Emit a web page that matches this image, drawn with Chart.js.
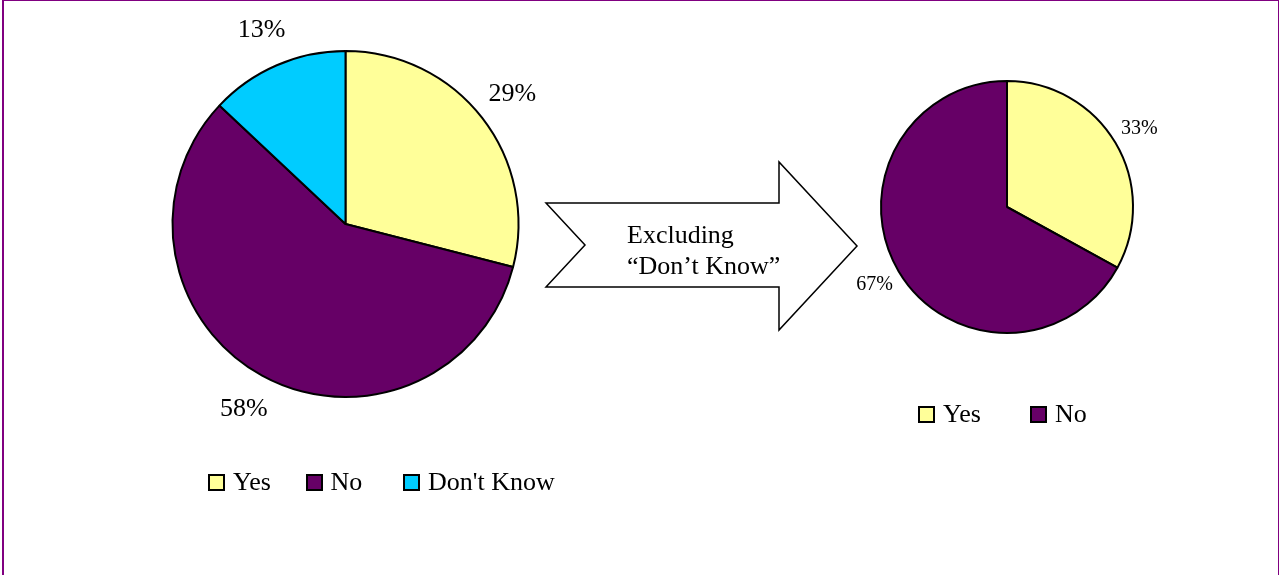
<!DOCTYPE html>
<html lang="en">
<head>
  <meta charset="UTF-8">
  <title>Yes / No / Don't Know</title>
  <script src="https://cdn.jsdelivr.net/npm/chart.js"></script>
  <style>
    body { margin: 0; width: 1279px; height: 575px; overflow: hidden; background: #fff; font-family: 'Liberation Serif', 'Times New Roman', serif; }
    .frame { position: absolute; left: 2px; top: 0; width: 1274px; height: 575px; border-top: 1px solid #800080; border-left: 2px solid #800080; border-right: 1px solid #800080; }
    canvas { position: absolute; left: 0; top: 0; }
    #arrow { position: absolute; left: 0; top: 0; }
    .legend { position: absolute; display: flex; font-size: 26px; line-height: 26px; color: #000; white-space: nowrap; }
    .legend .item { display: flex; align-items: center; flex-shrink: 0; }
    .legend .box { width: 13px; height: 13px; border: 2px solid #000; margin-right: 8px; flex-shrink: 0; }
  </style>
</head>
<body>
  <div class="frame"></div>
  <canvas id="allAnswers" width="1279" height="575"></canvas>
  <canvas id="knownAnswers" width="1279" height="575"></canvas>

  <svg id="arrow" width="1279" height="575">
    <polygon points="546,203 779,203 779,162 857,246 779,330 779,287 546,287 585,245"
             fill="#fff" stroke="#000" stroke-width="1.5" stroke-linejoin="miter"/>
    <text x="627" y="243" font-family="Liberation Serif" font-size="26">Excluding</text>
    <text x="627" y="274" font-family="Liberation Serif" font-size="26">“Don’t Know”</text>
  </svg>

  <div class="legend" id="allLegend" style="left:208px; top:469px;"></div>
  <div class="legend" id="knownLegend" style="left:918px; top:401px;"></div>

  <script>
    // answers including "Don't Know"
    const allLabels = ['Yes', 'No', "Don't Know"];
    const allValues = [29, 58, 13];

    // answers with "Don't Know" removed
    const knownLabels = ['Yes', 'No'];
    const knownValues = [33, 67];

    const sliceColors = ['#FFFF99', '#660066', '#00CCFF'];

    // percentage labels placed outside each slice, along its middle angle
    const sliceLabels = {
      id: 'sliceLabels',
      afterDatasetsDraw(chart, args, opts) {
        const ctx = chart.ctx;
        const meta = chart.getDatasetMeta(0);
        const values = chart.data.datasets[0].data;
        ctx.save();
        ctx.font = opts.size + 'px "Liberation Serif"';
        ctx.fillStyle = '#000';
        ctx.textAlign = 'center';
        ctx.textBaseline = 'middle';
        meta.data.forEach((arc, i) => {
          const mid = (arc.startAngle + arc.endAngle) / 2;
          const d = arc.outerRadius * opts.distance;
          ctx.fillText(values[i] + '%', arc.x + Math.cos(mid) * d, arc.y + Math.sin(mid) * d);
        });
        ctx.restore();
      }
    };

    function makePie(id, labels, values, padding, labelSize) {
      return new Chart(document.getElementById(id), {
        type: 'pie',
        data: {
          labels: labels,
          datasets: [{
            data: values,
            backgroundColor: sliceColors.slice(0, values.length),
            borderColor: '#000',
            borderWidth: 2
          }]
        },
        options: {
          responsive: false,
          animation: false,
          layout: { padding: padding },
          plugins: {
            legend: { display: false },
            tooltip: { enabled: false },
            sliceLabels: { size: labelSize, distance: 1.22 }
          }
        },
        plugins: [sliceLabels]
      });
    }

    function makeLegend(id, labels, itemWidth) {
      const el = document.getElementById(id);
      labels.forEach((label, i) => {
        const item = document.createElement('div');
        item.className = 'item';
        if (i < labels.length - 1) item.style.width = itemWidth + 'px';
        const box = document.createElement('span');
        box.className = 'box';
        box.style.background = sliceColors[i];
        const text = document.createElement('span');
        text.textContent = label;
        item.appendChild(box);
        item.appendChild(text);
        el.appendChild(item);
      });
    }

    makePie('allAnswers', allLabels, allValues, { left: 171.5, right: 759.5, top: 50, bottom: 177 }, 26);
    makePie('knownAnswers', knownLabels, knownValues, { left: 880, right: 145, top: 80, bottom: 241 }, 20);

    makeLegend('allLegend', allLabels, 97.5);
    makeLegend('knownLegend', knownLabels, 112);
  </script>
</body>
</html>
